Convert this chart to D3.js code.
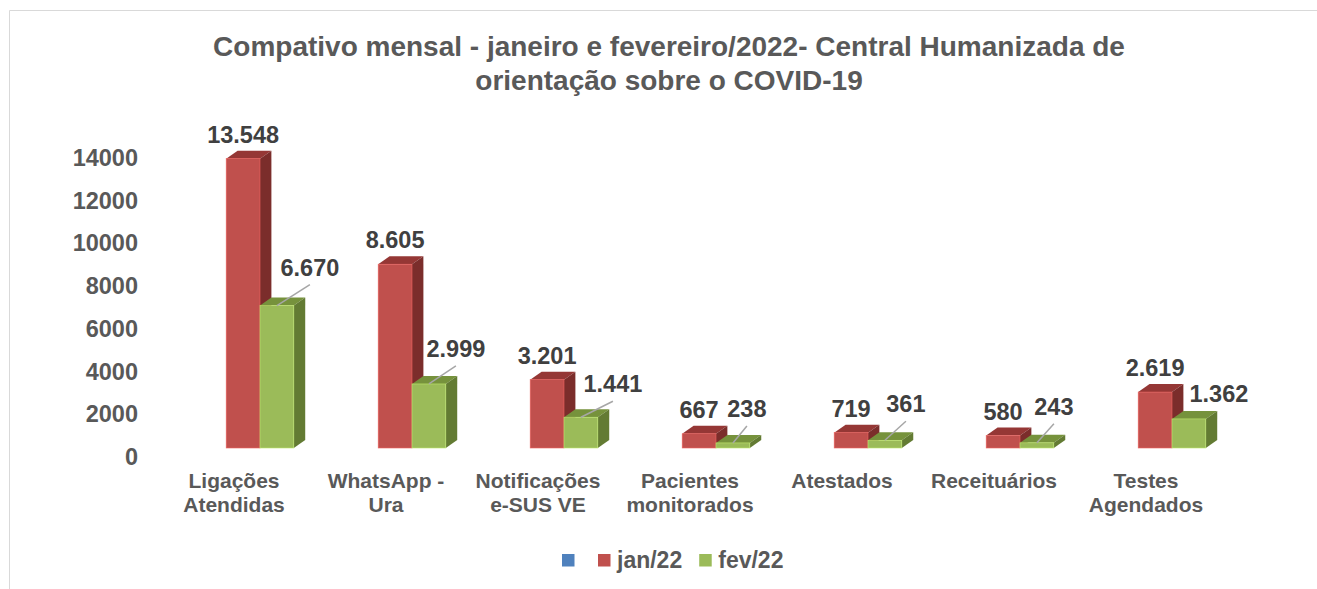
<!DOCTYPE html>
<html>
<head>
<meta charset="utf-8">
<script src="https://cdn.jsdelivr.net/npm/d3@7"></script>
<style>
  body { margin: 0; background: #fff; }
  svg { display: block; font-family: "Liberation Sans", Arial, sans-serif; font-weight: bold; }
</style>
</head>
<body>
<svg width="1317" height="589"></svg>
<script>
// Chart data
const categories = [
    ["Ligações", "Atendidas"],
    ["WhatsApp -", "Ura"],
    ["Notificações", "e-SUS VE"],
    ["Pacientes", "monitorados"],
    ["Atestados"],
    ["Receituários"],
    ["Testes", "Agendados"]
];
const janValues = [13548, 8605, 3201, 667, 719, 580, 2619];
const fevValues = [6670, 2999, 1441, 238, 361, 243, 1362];
const yTicks = [0, 2000, 4000, 6000, 8000, 10000, 12000, 14000];
const seriesNames = ["", "jan/22", "fev/22"];

// manual nudges for the fev/22 labels (dx, height above bar top)
const fevLabelNudge = [[33, 30], [27, 27], [32, 25], [14, 26], [21, 28], [17, 28], [30, 17]];

const colors = {
    blank: "#4f81bd",
    jan: {front: "#c0504d", top: "#953735", side: "#7b2d2b"},
    fev: {front: "#9bbb59", top: "#76923c", side: "#637b33"}
};
const depth = {dx: 11.4, dy: 8};

const svg = d3.select("svg");
const fmt = d3.formatLocale({decimal: ",", thousands: ".", grouping: [3], currency: ["", ""]}).format(",");

// frame
svg.append("path")
    .attr("d", "M9.5,589 V10.5 H1317")
    .attr("fill", "none")
    .attr("stroke", "#d9d9d9")
    .attr("stroke-width", 1);

// title
const title = svg.append("text")
    .attr("text-anchor", "middle")
    .attr("fill", "#595959")
    .style("font-size", "28px");
title.append("tspan").attr("x", 669).attr("y", 56)
    .text("Compativo mensal - janeiro e fevereiro/2022- Central Humanizada de");
title.append("tspan").attr("x", 669).attr("y", 90)
    .text("orientação sobre o COVID-19");

// scales
const x = d3.scaleBand()
    .domain(d3.range(categories.length))
    .range([184, 1248])
    .paddingInner(0.555)
    .paddingOuter(0.2775);
const xSub = d3.scaleBand()
    .domain(["jan", "fev"])
    .range([0, x.bandwidth()]);
const y = d3.scaleLinear()
    .domain([0, 14000])
    .range([448, 149]);

// y axis labels
const yAxis = svg.append("g")
    .attr("transform", "translate(138,9)")
    .call(d3.axisLeft(y).tickValues(yTicks).tickSize(0).tickPadding(0).tickFormat(d3.format("d")));
yAxis.select(".domain").remove();
yAxis.selectAll("text")
    .attr("fill", "#595959")
    .style("font-size", "23.5px")
    .style("font-family", "'Liberation Sans', Arial, sans-serif")
    .style("font-weight", "bold");

// 3D bar helper
function bar3d(g, x0, w, v, c) {
    const top = y(v), bottom = y(0);
    const {dx, dy} = depth;
    g.append("path")
        .attr("d", `M${x0},${top} L${x0 + dx},${top - dy} L${x0 + w + dx},${top - dy} L${x0 + w},${top} Z`)
        .attr("fill", c.top);
    g.append("path")
        .attr("d", `M${x0 + w},${top} L${x0 + w + dx},${top - dy} L${x0 + w + dx},${bottom - dy} L${x0 + w},${bottom} Z`)
        .attr("fill", c.side);
    g.append("rect")
        .attr("x", x0).attr("y", top)
        .attr("width", w).attr("height", bottom - top)
        .attr("fill", c.front)
        .attr("stroke", d3.color(c.front).brighter(0.6))
        .attr("stroke-width", 0.6);
}

const bars = svg.append("g");
categories.forEach((cat, i) => {
    const g = bars.append("g");
    bar3d(g, x(i) + xSub("jan"), xSub.bandwidth(), janValues[i], colors.jan);
    bar3d(g, x(i) + xSub("fev"), xSub.bandwidth(), fevValues[i], colors.fev);
});

// data labels
const labels = svg.append("g")
    .attr("fill", "#404040")
    .attr("text-anchor", "middle")
    .style("font-size", "23.5px");

categories.forEach((cat, i) => {
    const rc = x(i) + xSub("jan") + xSub.bandwidth() / 2;
    labels.append("text")
        .attr("x", rc)
        .attr("y", y(janValues[i]) - 16)
        .text(fmt(janValues[i]));

    const gc = x(i) + xSub("fev") + xSub.bandwidth() / 2;
    const gt = y(fevValues[i]);
    const [ndx, ndy] = fevLabelNudge[i];
    if (ndy > 20) {
        labels.append("line")
            .attr("x1", gc).attr("y1", gt)
            .attr("x2", gc + ndx).attr("y2", gt - ndy + 9)
            .attr("stroke", "#a6a6a6")
            .attr("stroke-width", 1.5);
    }
    labels.append("text")
        .attr("x", gc + ndx)
        .attr("y", gt - ndy)
        .text(fmt(fevValues[i]));
});

// category labels
const catG = svg.append("g")
    .attr("fill", "#595959")
    .attr("text-anchor", "middle")
    .style("font-size", "21px");
categories.forEach((cat, i) => {
    const t = catG.append("text");
    cat.forEach((line, j) => {
        t.append("tspan")
            .attr("x", x(i) + x.bandwidth() / 2 - 26)
            .attr("y", 488 + j * 24)
            .text(line);
    });
});

// legend
const legend = svg.append("g").style("font-size", "23px").attr("fill", "#595959");
const legendColors = [colors.blank, colors.jan.front, colors.fev.front];
let lx = 562;
seriesNames.forEach((name, i) => {
    legend.append("rect")
        .attr("x", lx).attr("y", 554)
        .attr("width", 12.5).attr("height", 12.5)
        .attr("fill", legendColors[i]);
    const t = legend.append("text")
        .attr("x", lx + 19)
        .attr("y", 568)
        .text(name);
    lx += 19 + (name ? t.node().getComputedTextLength() : 0) + 17;
});
</script>
</body>
</html>
